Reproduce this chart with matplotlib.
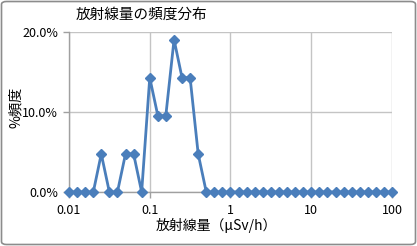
import matplotlib
matplotlib.use("Agg")
import matplotlib.pyplot as plt
from matplotlib.patches import FancyBboxPatch
from matplotlib.ticker import FixedLocator, NullLocator

plt.rcParams['font.family'] = ['Noto Sans CJK JP', 'DejaVu Sans']

dose = [0.01, 0.0126, 0.0158, 0.02, 0.0251, 0.0316, 0.0398, 0.0501, 0.0631, 0.0794,
        0.1, 0.126, 0.158, 0.2, 0.251, 0.316, 0.398, 0.501, 0.631, 0.794,
        1, 1.26, 1.58, 2, 2.51, 3.16, 3.98, 5.01, 6.31, 7.94,
        10, 12.6, 15.8, 20, 25.1, 31.6, 39.8, 50.1, 63.1, 79.4, 100]
freq = [0, 0, 0, 0, 4.76, 0, 0, 4.76, 4.76, 0,
        14.29, 9.52, 9.52, 19.05, 14.29, 14.29, 4.76, 0, 0, 0,
        0, 0, 0, 0, 0, 0, 0, 0, 0, 0,
        0, 0, 0, 0, 0, 0, 0, 0, 0, 0, 0]
xticks = [0.01, 0.1, 1, 10, 100]
xticklabels = ['0.01', '0.1', '1', '10', '100']
yticks = [0, 10, 20]
yticklabels = ['0.0%', '10.0%', '20.0%']

W, H = 417, 246
fig = plt.figure(figsize=(W / 100, H / 100), dpi=100)
ax = fig.add_axes([69 / W, 1 - 192 / H, (392 - 69) / W, (192 - 32) / H])

ax.set_xscale('log')
ax.set_xlim(0.01, 100)
ax.set_ylim(0, 20)
ax.plot(dose, freq, color='#4a7ebb', lw=2.0, marker='D', markersize=4.9,
        markeredgecolor='#4a7ebb', markerfacecolor='#4a7ebb', clip_on=False, zorder=3)

ax.xaxis.set_major_locator(FixedLocator(xticks))
ax.xaxis.set_minor_locator(NullLocator())
ax.set_xticklabels(xticklabels)
ax.set_yticks(yticks)
ax.set_yticklabels(yticklabels)
ax.grid(True, which='major', color='#c4c4c4', lw=1.0)
ax.set_axisbelow(True)
for s in ['top', 'right']:
    ax.spines[s].set_visible(False)
for s in ['left', 'bottom']:
    ax.spines[s].set_color('#a0a0a0')
    ax.spines[s].set_linewidth(1.0)
ax.tick_params(axis='both', colors='#a0a0a0', length=4, width=1.0, labelcolor='black', labelsize=9)
ax.tick_params(axis='x', pad=5)
ax.tick_params(axis='y', pad=4)

fig.text(76 / W, 1 - 15 / H, '放射線量の頻度分布', fontsize=10.5, ha='left', va='center')
fig.text(216.5 / W, 1 - 225 / H, '放射線量（μSv/h）', fontsize=10, ha='center', va='center')
fig.text(16 / W, 1 - 107 / H, '%頻度', fontsize=10.2, ha='center', va='center', rotation=90)

border = FancyBboxPatch((1.5 / W, 1.5 / H), 1 - 3 / W, 1 - 3 / H, boxstyle='round,pad=0,rounding_size=0.012',
                        transform=fig.transFigure, fill=False, edgecolor='#8c8c8c', lw=1.2)
fig.patches.append(border)

fig.savefig('out.png', dpi=100)
